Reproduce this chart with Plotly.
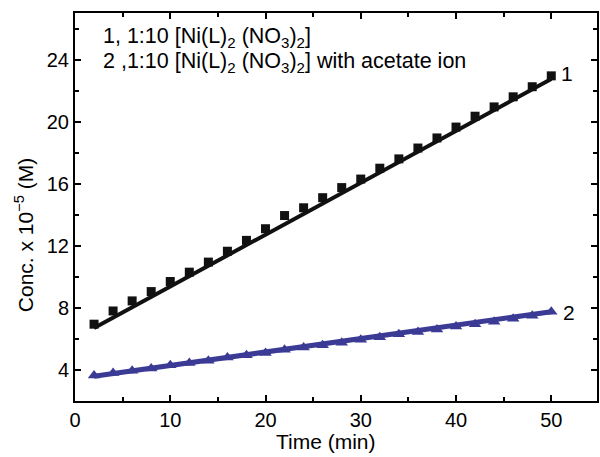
import plotly.graph_objects as go

# ---- data ----
time_min = [2, 4, 6, 8, 10, 12, 14, 16, 18, 20, 22, 24, 26, 28, 30, 32, 34, 36, 38, 40, 42, 44, 46, 48, 50]
conc_1 = [6.95, 7.8, 8.45, 9.05, 9.7, 10.3, 10.95, 11.65, 12.35, 13.1, 13.95, 14.45, 15.1, 15.75, 16.3,
          17.0, 17.6, 18.3, 18.95, 19.65, 20.35, 20.95, 21.6, 22.25, 22.95]
conc_2 = [3.65, 3.8, 3.95, 4.1, 4.3, 4.45, 4.6, 4.8, 4.95, 5.1, 5.3, 5.45, 5.6, 5.75, 5.95,
          6.1, 6.3, 6.45, 6.6, 6.8, 6.95, 7.1, 7.3, 7.5, 7.75]
fit_x = [2, 50]
fit_1 = [6.7, 22.75]
fit_2 = [3.6, 7.75]

legend_lines = ["1, 1:10 [Ni(L)<sub>2</sub> (NO<sub>3</sub>)<sub>2</sub>]",
                "2 ,1:10 [Ni(L)<sub>2</sub> (NO<sub>3</sub>)<sub>2</sub>] with acetate ion"]
curve_labels = ["1", "2"]

BLUE = "#3b3b95"
FONT = "Liberation Sans, Arial, sans-serif"

fig = go.Figure()
fig.add_trace(go.Scatter(x=time_min, y=conc_1, mode="markers",
                         marker=dict(symbol="square", size=9, color="#111111"), showlegend=False))
fig.add_trace(go.Scatter(x=fit_x, y=fit_1, mode="lines",
                         line=dict(color="#111111", width=4), showlegend=False))
fig.add_trace(go.Scatter(x=time_min, y=conc_2, mode="markers",
                         marker=dict(symbol="triangle-up", size=11, color=BLUE), showlegend=False))
fig.add_trace(go.Scatter(x=fit_x, y=fit_2, mode="lines",
                         line=dict(color=BLUE, width=5), showlegend=False))

L, R, T, B = 75, 599, 13, 401
W, H = 600, 457


def px(xp):
    return (xp - L) / (R - L)


def py(yp):
    return (B - yp) / (B - T)


ann = [
    dict(x=px(101), y=py(37), text=legend_lines[0], size=21.5),
    dict(x=px(101), y=py(63), text=legend_lines[1], size=21.5),
    dict(x=px(561), y=py(73), text=curve_labels[0], size=21),
    dict(x=px(563), y=py(312), text=curve_labels[1], size=21),
]
for a in ann:
    size = a.pop("size")
    a.update(xref="paper", yref="paper", showarrow=False, xanchor="left", yanchor="middle",
             font=dict(family=FONT, size=size, color="black"))
    fig.add_annotation(**a)

fig.add_annotation(x=px(24), y=py(235), xref="paper", yref="paper", showarrow=False,
                   xanchor="center", yanchor="middle",
                   text="Conc. x 10<sup>\u22125</sup> (M)", textangle=-90,
                   font=dict(family=FONT, size=21, color="black"))
fig.add_annotation(x=px(327), y=py(441), xref="paper", yref="paper", showarrow=False,
                   xanchor="center", yanchor="middle",
                   text="Time (min)", font=dict(family=FONT, size=21, color="black"))

axis_common = dict(showline=True, linecolor="black", linewidth=2, mirror="ticks",
                   ticks="inside", ticklen=6, tickwidth=2, tickcolor="black",
                   showgrid=False, zeroline=False,
                   tickfont=dict(family=FONT, size=20, color="black"))

fig.update_xaxes(range=[0, 54.8], tick0=0, dtick=10,
                 minor=dict(ticks="inside", ticklen=4, tickwidth=2, tickcolor="black", dtick=5, tick0=0),
                 **axis_common)
fig.update_yaxes(range=[2, 27], tick0=0, dtick=4,
                 minor=dict(ticks="inside", ticklen=4, tickwidth=2, tickcolor="black", dtick=2, tick0=0),
                 **axis_common)

fig.update_layout(width=W, height=H, margin=dict(l=L, r=W - R, t=T, b=H - B),
                  plot_bgcolor="white", paper_bgcolor="white",
                  font=dict(family=FONT, color="black"))

fig.write_html("out.html")
